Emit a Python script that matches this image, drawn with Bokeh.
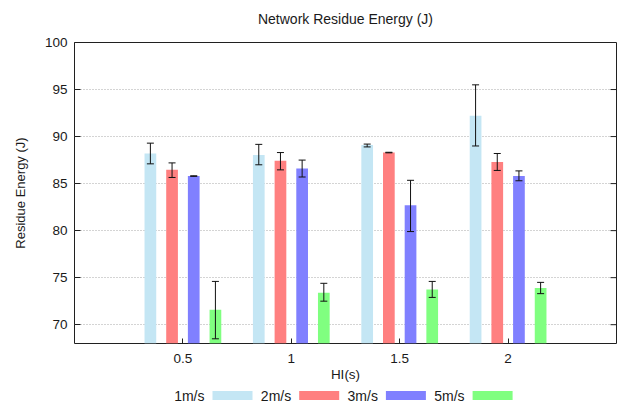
import math
from bokeh.plotting import figure
from bokeh.models import (ColumnDataSource, Whisker, TeeHead, FixedTicker, Range1d)
from bokeh.layouts import column
from bokeh.core.properties import value
from bokeh.embed import file_html
from bokeh.resources import INLINE

# ---- data ----
title_text = "Network Residue Energy (J)"
hi_values = [0.5, 1.0, 1.5, 2.0]
tick_labels = ["0.5", "1", "1.5", "2"]
series_names = ["1m/s", "2m/s", "3m/s", "5m/s"]
series_colors = ["#c4e6f4", "#ff8080", "#8080ff", "#80ff80"]
offsets = [-0.15, -0.05, 0.05, 0.15]

mean_1 = [88.2, 88.05, 89.1, 92.2]
lo_1 = [87.1, 87.0, 88.9, 89.0]
up_1 = [89.3, 89.17, 89.2, 95.5]

mean_2 = [86.46, 87.43, 88.3, 87.3]
lo_2 = [85.65, 86.46, 88.27, 86.4]
up_2 = [87.2, 88.3, 88.33, 88.2]

mean_3 = [85.8, 86.6, 82.7, 85.8]
lo_3 = [85.77, 85.7, 79.9, 85.3]
up_3 = [85.83, 87.5, 85.35, 86.35]

mean_5 = [71.6, 73.4, 73.75, 73.9]
lo_5 = [68.5, 72.5, 72.9, 73.3]
up_5 = [74.6, 74.4, 74.6, 74.5]

y_ticks = [70, 75, 80, 85, 90, 95, 100]
x_min, x_max = 0, 2.5
y_min, y_max = 68, 100

means = [mean_1, mean_2, mean_3, mean_5]
lows = [lo_1, lo_2, lo_3, lo_5]
ups = [up_1, up_2, up_3, up_5]

FONT = "Liberation Sans"
TXT = "#1a1a1a"
EDGE = "#202020"
W = 617
LEFT = 74
RIGHT = 1


def strip(height):
    f = figure(width=W, height=height, output_backend="svg", toolbar_location=None,
               x_axis_type=None, y_axis_type=None,
               x_range=Range1d(LEFT, W - RIGHT), y_range=Range1d(0, height),
               min_border_left=LEFT, min_border_right=RIGHT,
               min_border_top=0, min_border_bottom=0)
    f.grid.visible = False
    f.outline_line_color = None
    f.background_fill_color = "white"
    f.border_fill_color = "white"
    return f


# ---- title strip ----
TH = 30
top = strip(TH)
top.text(x=[(LEFT + W - RIGHT) / 2], y=[TH - 18], text=[title_text],
         text_align="center", text_baseline="middle",
         text_font=value(FONT), text_font_size="14px", text_color=TXT)

# ---- main plot ----
p = figure(width=W, height=356, output_backend="svg", toolbar_location=None,
           x_range=Range1d(x_min, x_max), y_range=Range1d(y_min, y_max),
           min_border_left=LEFT, min_border_right=RIGHT, min_border_top=12, min_border_bottom=43)

p.outline_line_color = EDGE
p.outline_line_width = 1
p.outline_line_alpha = 1
p.background_fill_color = "white"
p.border_fill_color = "white"

bar_w = 0.054
for k in range(4):
    xs = [h + offsets[k] for h in hi_values]
    src = ColumnDataSource(dict(x=xs, top=means[k], lower=lows[k], upper=ups[k]))
    p.vbar(x="x", top="top", bottom=y_min, width=bar_w, source=src,
           fill_color=series_colors[k], line_color=None)
    wh = Whisker(source=src, base="x", upper="upper", lower="lower",
                 line_color="#111111", line_width=1,
                 upper_head=TeeHead(size=7, line_color="#111111", line_width=1),
                 lower_head=TeeHead(size=7, line_color="#111111", line_width=1))
    wh.level = "overlay"
    p.add_layout(wh)

# axes
p.xaxis.ticker = FixedTicker(ticks=hi_values)
p.xaxis.major_label_overrides = {h: t for h, t in zip(hi_values, tick_labels)}
p.xaxis.axis_label = "HI(s)"
p.yaxis.axis_label = "Residue Energy (J)"
p.yaxis.ticker = FixedTicker(ticks=y_ticks)

for ax in (p.xaxis[0], p.yaxis[0]):
    ax.axis_line_color = None
    ax.major_tick_out = 0
    ax.major_tick_in = 6
    ax.major_tick_line_color = EDGE
    ax.minor_tick_line_color = None
    ax.major_label_text_font = FONT
    ax.major_label_text_font_size = "13.5px"
    ax.major_label_text_color = TXT
    ax.axis_label_text_font = FONT
    ax.axis_label_text_font_size = "13.5px"
    ax.axis_label_text_font_style = "normal"
    ax.axis_label_text_color = TXT

p.yaxis.axis_label_text_font_size = "13px"
p.xaxis.major_tick_in = 5
p.xaxis.major_label_standoff = 10
p.xaxis.axis_label_standoff = 1
p.yaxis.major_label_standoff = 7
p.yaxis.axis_label_standoff = 14

# mirrored tick marks on the right border (gnuplot style)
p.ray(x=[x_max] * (len(y_ticks) - 1), y=y_ticks[:-1], length=6, length_units="screen",
      angle=math.pi, line_color=EDGE, line_width=1)

p.xgrid.grid_line_color = None
p.ygrid.ticker = FixedTicker(ticks=y_ticks[:-1])
p.ygrid.grid_line_color = "#a8a8a8"
p.ygrid.grid_line_dash = "1 2"
p.ygrid.grid_line_width = 1

# ---- legend strip below: label then swatch (gnuplot style) ----
LH = 16
leg = strip(LH)
sw0 = 212.0
step = 86.7
sw_w = 40.0
row_y = 7
sw_lefts = [sw0 + k * step for k in range(4)]
leg_src = ColumnDataSource(dict(
    cx=[l + sw_w / 2 for l in sw_lefts],
    tx=[l - 8 for l in sw_lefts],
    name=series_names,
    color=series_colors,
))
leg.rect(x="cx", y=row_y, width=sw_w, height=9, source=leg_src,
         fill_color="color", line_color=None)
leg.text(x="tx", y=row_y, text="name", source=leg_src,
         text_align="right", text_baseline="middle",
         text_font=value(FONT), text_font_size="14px", text_color=TXT)

layout = column(top, p, leg, spacing=0)
open("out.html", "w").write(file_html(layout, INLINE))
